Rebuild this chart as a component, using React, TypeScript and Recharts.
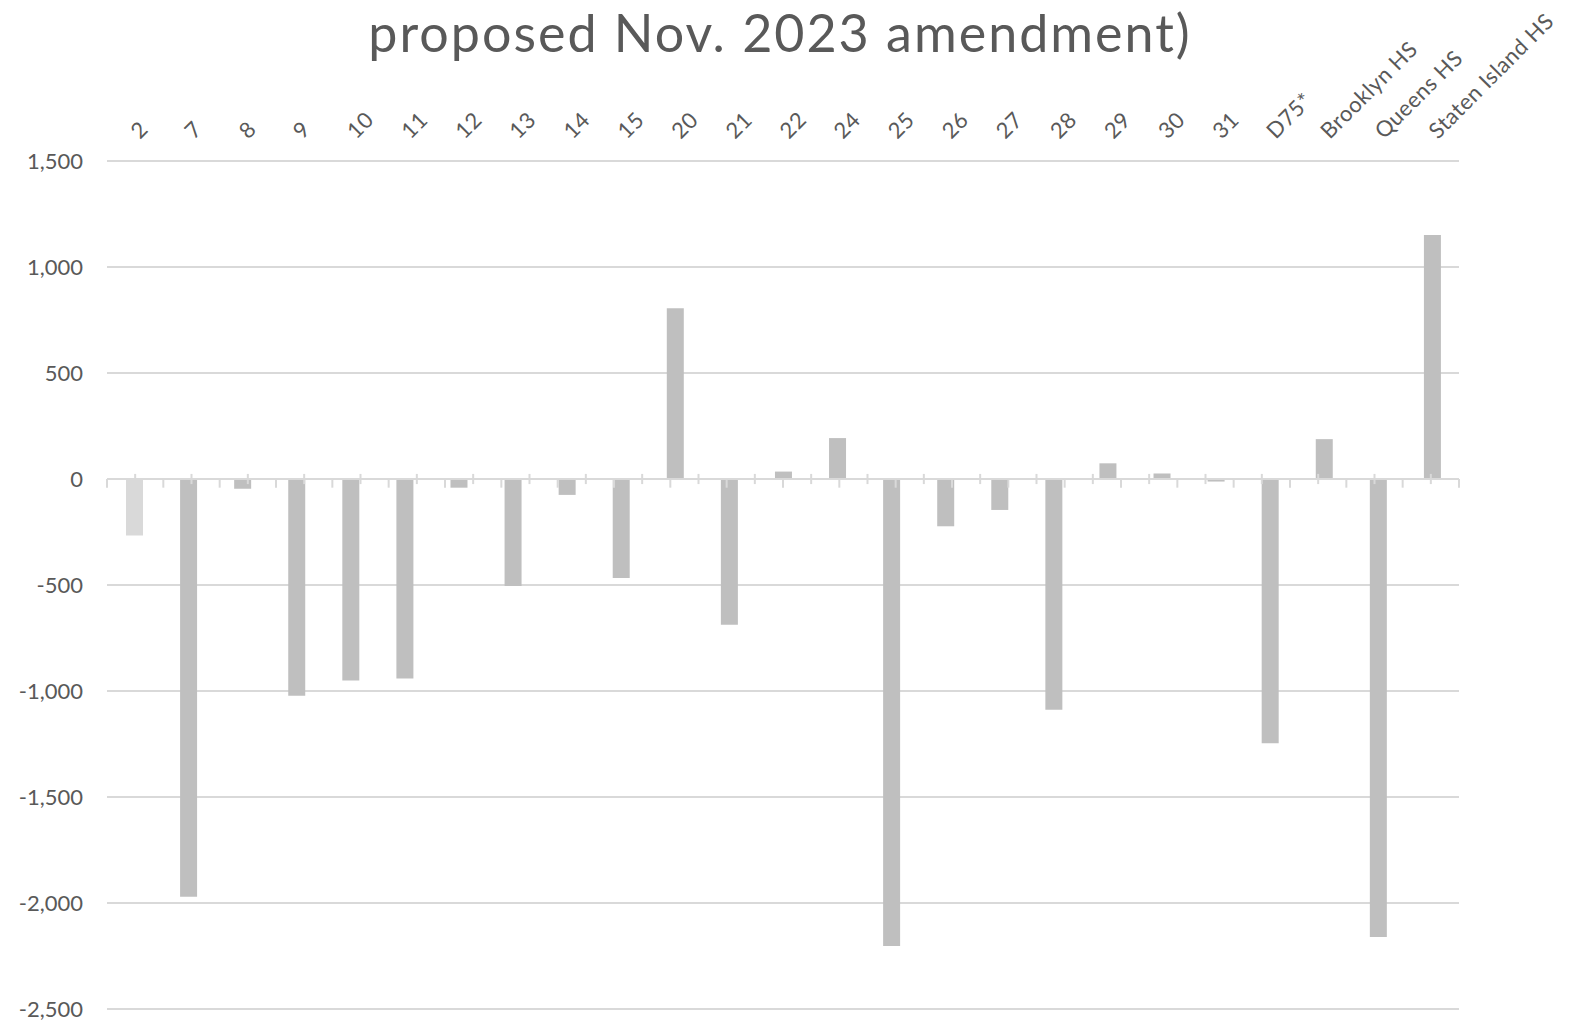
import React from 'react'
import { BarChart, Bar, XAxis, YAxis, CartesianGrid, ReferenceLine, Cell } from 'recharts'

const districts = ['2', '7', '8', '9', '10', '11', '12', '13', '14', '15', '20', '21', '22', '24', '25', '26', '27', '28', '29', '30', '31', 'D75*', 'Brooklyn HS', 'Queens HS', 'Staten Island HS']
const changes = [-266, -1970, -46, -1022, -950, -941, -41, -505, -75, -467, 806, -687, 35, 193, -2203, -223, -146, -1089, 74, 26, -12, -1247, 188, -2160, 1151]
const yTicks = [-2500, -2000, -1500, -1000, -500, 0, 500, 1000, 1500]

const data = districts.map((name, i) => ({ name, value: changes[i] }))

const FONT = 'Lato, "Open Sans", sans-serif'
const TEXT = '#595959'
const LINE = '#D9D9D9'

const XTick = (props: any) => {
    const { x, y, payload } = props
    const tx = x + 6
    const ty = y - 21
    return (
        <text x={tx} y={ty} transform={`rotate(-45, ${tx}, ${ty})`} textAnchor="start"
            fontFamily={FONT} fontSize={22} fill={TEXT} letterSpacing={0.5}>
            {payload.value}
        </text>
    )
}

const App = () => {
    return (
        <div style={{ position: 'absolute', left: 0, top: 0, width: 1590, height: 1023, background: '#fff' }}>
            <div style={{
                position: 'absolute', left: 0, width: 1560, top: 0, textAlign: 'center',
                fontFamily: FONT, fontSize: 52, color: TEXT, lineHeight: '64px', letterSpacing: 2
            }}>
                proposed Nov. 2023 amendment)
            </div>
            <BarChart width={1590} height={1023} data={data}
                margin={{ top: 0, right: 131, bottom: 14, left: 0 }}>
                <CartesianGrid vertical={false} stroke={LINE} strokeWidth={2} />
                <XAxis dataKey="name" orientation="top" height={161} interval={0}
                    axisLine={false} tickLine={false} tickSize={0} tickMargin={0} tick={<XTick />} />
                <XAxis xAxisId="n" type="number" domain={[0, 25]} allowDataOverflow hide />
                <YAxis domain={[-2500, 1500]} ticks={yTicks} width={107} interval={0}
                    axisLine={false} tickLine={false} tickSize={0} tickMargin={24}
                    tick={{ fontFamily: FONT, fontSize: 22, fill: TEXT }}
                    tickFormatter={(v: number) => v.toLocaleString('en-US')} />
                <ReferenceLine y={0} stroke={LINE} strokeWidth={2} />
                {districts.map((d, i) => (
                    <ReferenceLine key={'c' + d} xAxisId="n" stroke={LINE} strokeWidth={2}
                        segment={[{ x: i + 0.5, y: 24 }, { x: i + 0.5, y: -24 }]} />
                ))}
                {Array.from({ length: districts.length + 1 }, (_, i) => (
                    <ReferenceLine key={'b' + i} xAxisId="n" stroke={LINE} strokeWidth={2}
                        segment={[{ x: i, y: 0 }, { x: i, y: -41 }]} />
                ))}
                <Bar dataKey="value" barSize={17} isAnimationActive={false}>
                    {data.map((d, i) => (
                        <Cell key={d.name} fill={i === 0 ? '#D9D9D9' : '#BFBFBF'} />
                    ))}
                </Bar>
            </BarChart>
        </div>
    )
}

export default App
